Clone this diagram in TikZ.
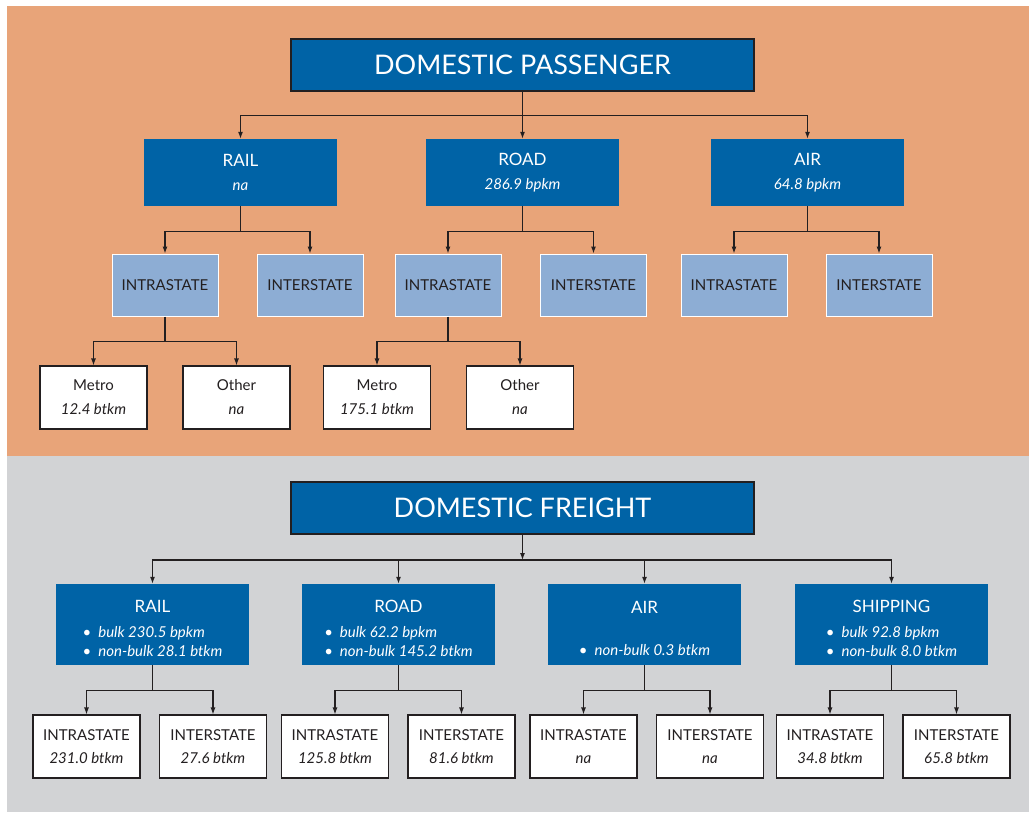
\documentclass[tikz,border=0pt]{standalone}
\usepackage{fontspec}
\setmainfont{Lato}
\usetikzlibrary{arrows.meta}
\definecolor{bgor}{HTML}{E8A479}
\definecolor{bggr}{HTML}{D2D3D5}
\definecolor{dblue}{HTML}{0063A6}
\definecolor{lblue}{HTML}{8DADD4}
\definecolor{ink}{HTML}{231F20}
\newcommand\iv[1]{{\fontsize{15}{24}\selectfont\itshape #1}}
\newcommand\bul[1]{\textbullet\hspace{7pt}{\itshape #1}}
\begin{document}
\begin{tikzpicture}[x=1pt,y=-1pt,
  ttl/.style={draw=ink, line width=1.2pt, fill=dblue, text=white, font=\fontsize{27}{32}\selectfont, minimum width=463pt, minimum height=52pt, inner sep=0pt},
  pmode/.style={fill=dblue, text=white, font=\fontsize{17}{24}\selectfont, minimum width=193pt, minimum height=67pt, align=center, inner sep=0pt},
  fmode/.style={fill=dblue, text=white, font=\fontsize{15}{19}\selectfont, minimum width=193pt, minimum height=81pt, inner sep=0pt},
  sub/.style={fill=lblue, draw=white, line width=1pt, text=ink, font=\fontsize{15}{18}\selectfont, minimum width=106pt, minimum height=62pt, inner sep=0pt},
  leaf/.style={fill=white, draw=ink, line width=1.1pt, text=ink, font=\fontsize{15}{24}\selectfont, minimum width=107pt, minimum height=63pt, align=center, inner sep=0pt},
  fleaf/.style={leaf, font=\fontsize{15}{23}\selectfont},
  wire/.style={draw=ink, line width=1.1pt},
  arr/.style={wire, -{Latex[length=7pt,width=5pt]}},
]
\useasboundingbox (0,0) rectangle (1029,812);
\fill[white] (0,0) rectangle (1029,812);
\fill[bgor] (7,6) rectangle (1029,456);
\fill[bggr] (7,456) rectangle (1029,812);

% ---------- Passenger ----------
\node[ttl] (dp) at (522.5,65) {DOMESTIC PASSENGER};
\node[pmode] (prail) at (240.5,172.5) {RAIL\\\iv{na}};
\node[pmode] (proad) at (522.5,172.5) {ROAD\\\iv{286.9 bpkm}};
\node[pmode] (pair) at (807.5,172.5) {AIR\\\iv{64.8 bpkm}};

\node[sub] (pri) at (165,285) {INTRASTATE};
\node[sub] (pre) at (310,285) {INTERSTATE};
\node[sub] (poi) at (448,285) {INTRASTATE};
\node[sub] (poe) at (593.5,285) {INTERSTATE};
\node[sub] (pai) at (734,285) {INTRASTATE};
\node[sub] (pae) at (879,285) {INTERSTATE};

\node[leaf] (m1) at (93.5,397.5) {Metro\\\iv{12.4 btkm}};
\node[leaf] (o1) at (236.5,397.5) {Other\\\iv{na}};
\node[leaf] (m2) at (377,397.5) {Metro\\\iv{175.1 btkm}};
\node[leaf] (o2) at (520,397.5) {Other\\\iv{na}};

\draw[wire] (dp.south) -- ++(0,24) coordinate (jdp);
\foreach \c in {prail,proad,pair} \draw[arr] (jdp) -| (\c.north);
\foreach \p/\a/\b in {prail/pri/pre, proad/poi/poe, pair/pai/pae, pri/m1/o1, poi/m2/o2} {
  \draw[wire] (\p.south) -- ++(0,25) coordinate (j\p);
  \draw[arr] (j\p) -| (\a.north);
  \draw[arr] (j\p) -| (\b.north);
}

% ---------- Freight ----------
\node[ttl] (df) at (522.5,508) {DOMESTIC FREIGHT};
\coordinate (fbar) at (522.5,560);

\node[fmode] (frail) at (152.5,624.5) {\begin{tabular}{@{}l@{}}\multicolumn{1}{@{}c@{}}{\rule{0pt}{25pt}\fontsize{17}{19}\selectfont RAIL}\\[6pt] \bul{bulk 230.5 bpkm}\\ \bul{non-bulk 28.1 btkm}\end{tabular}};
\node[fmode] (froad) at (398.5,624.5) {\begin{tabular}{@{}l@{}}\multicolumn{1}{@{}c@{}}{\rule{0pt}{25pt}\fontsize{17}{19}\selectfont ROAD}\\[6pt] \bul{bulk 62.2 bpkm}\\ \bul{non-bulk 145.2 btkm}\end{tabular}};
\node[fmode] (fair) at (644.5,624.5) {\begin{tabular}{@{}l@{}}\multicolumn{1}{@{}c@{}}{\rule{0pt}{25pt}\fontsize{17}{19}\selectfont AIR}\\[23pt] \bul{non-bulk 0.3 btkm}\end{tabular}};
\node[fmode] (fship) at (891.5,624.5) {\begin{tabular}{@{}l@{}}\multicolumn{1}{@{}c@{}}{\rule{0pt}{25pt}\fontsize{17}{19}\selectfont SHIPPING}\\[6pt] \bul{bulk 92.8 bpkm}\\ \bul{non-bulk 8.0 btkm}\end{tabular}};

\node[fleaf] (fri) at (86.5,746.5) {INTRASTATE\\\iv{231.0 btkm}};
\node[fleaf] (fre) at (213,746.5) {INTERSTATE\\\iv{27.6 btkm}};
\node[fleaf] (foi) at (335,746.5) {INTRASTATE\\\iv{125.8 btkm}};
\node[fleaf] (foe) at (461.5,746.5) {INTERSTATE\\\iv{81.6 btkm}};
\node[fleaf] (fai) at (583.5,746.5) {INTRASTATE\\\iv{na}};
\node[fleaf] (fae) at (710,746.5) {INTERSTATE\\\iv{na}};
\node[fleaf] (fsi) at (830,746.5) {INTRASTATE\\\iv{34.8 btkm}};
\node[fleaf] (fse) at (956.5,746.5) {INTERSTATE\\\iv{65.8 btkm}};

\draw[arr] (df.south) -- (fbar);
\foreach \c in {frail,froad,fair,fship} \draw[arr] (fbar) -| (\c.north);
\foreach \p/\a/\b in {frail/fri/fre, froad/foi/foe, fair/fai/fae, fship/fsi/fse} {
  \draw[wire] (\p.south) -- ++(0,25) coordinate (j\p);
  \draw[arr] (j\p) -| (\a.north);
  \draw[arr] (j\p) -| (\b.north);
}
\end{tikzpicture}
\end{document}
